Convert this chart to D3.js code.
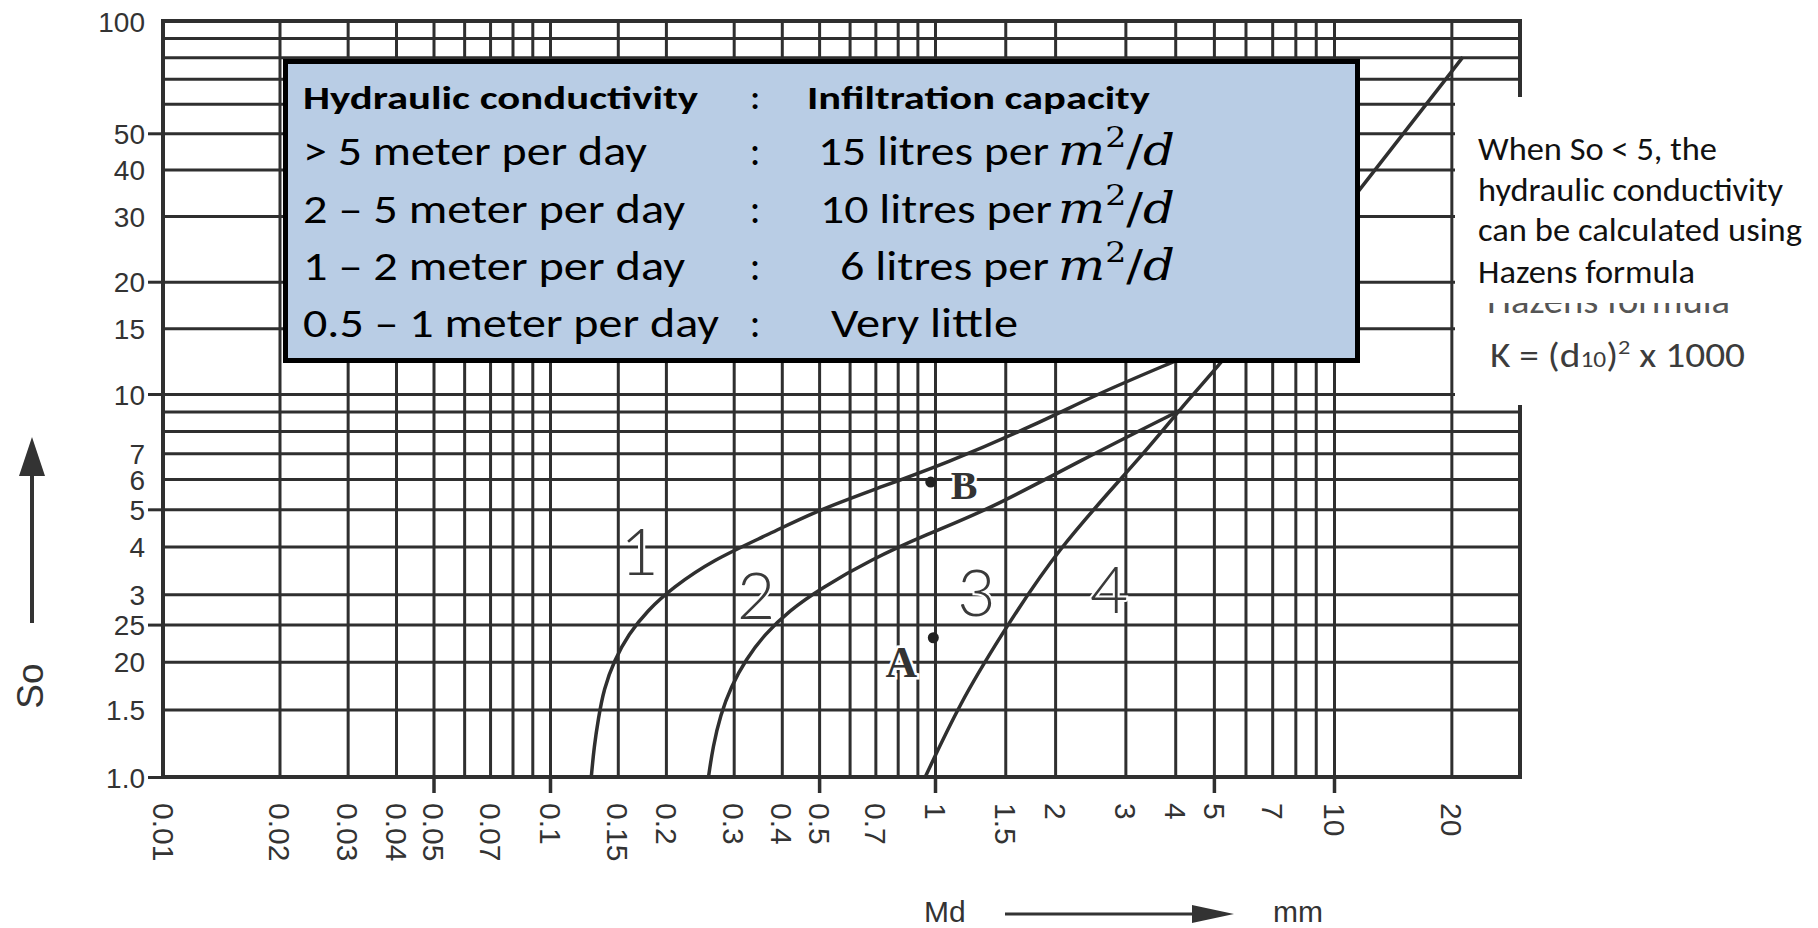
<!DOCTYPE html>
<html>
<head>
  <meta charset="utf-8">
  <title>So - Md</title>
  <style>
    body { margin: 0; background: #fff; }
  </style>
</head>
<body>
<script src="https://d3js.org/d3.v7.min.js"></script>
<script>
  var width = 1818;
  var height = 928;

  // log-log paper
  var xGrid = [0.01, 0.02, 0.03, 0.04, 0.05, 0.06, 0.07, 0.08, 0.09, 0.1, 0.15, 0.2, 0.3, 0.4, 0.5, 0.6, 0.7, 0.8, 0.9, 1, 1.5, 2, 3, 4, 5, 6, 7, 8, 9, 10, 20, 30];
  var yGrid = [1, 1.5, 2, 2.5, 3, 4, 5, 6, 7, 8, 9, 10, 15, 20, 30, 40, 50, 60, 70, 80, 90, 100];
  var xMajor = [0.05, 0.1, 0.5, 1, 5, 10];
  var yMajor = [1, 2.5, 5, 10, 20, 50];

  var xTickValues = [0.01, 0.02, 0.03, 0.04, 0.05, 0.07, 0.1, 0.15, 0.2, 0.3, 0.4, 0.5, 0.7, 1, 1.5, 2, 3, 4, 5, 7, 10, 20];
  var xTickLabels = ['0.01', '0.02', '0.03', '0.04', '0.05', '0.07', '0.1', '0.15', '0.2', '0.3', '0.4', '0.5', '0.7', '1', '1.5', '2', '3', '4', '5', '7', '10', '20'];
  var yTickValues = [100, 50, 40, 30, 20, 15, 10, 7, 6, 5, 4, 3, 2.5, 2, 1.5, 1];
  var yTickLabels = ['100', '50', '40', '30', '20', '15', '10', '7', '6', '5', '4', '3', '25', '20', '1.5', '1.0'];

  // boundary lines, [Md, So]
  var curve1 = [[0.128, 1.0], [0.1302, 1.2], [0.1335, 1.42], [0.138, 1.7], [0.147, 2.02], [0.16, 2.36], [0.179, 2.72], [0.208, 3.12], [0.265, 3.69], [0.37, 4.3], [0.48, 4.9], [0.7, 5.65], [1.07, 6.6], [1.78, 8.3], [2.55, 10], [3.75, 11.9], [6.05, 14.8]];
  var curve2 = [[0.258, 1.0], [0.265, 1.2], [0.277, 1.45], [0.295, 1.72], [0.323, 2.03], [0.36, 2.35], [0.418, 2.72], [0.508, 3.12], [0.68, 3.69], [0.95, 4.3], [1.37, 5.0], [2.31, 6.7], [4.1, 9.05]];
  var curve3 = [[0.943, 1.0], [1.155, 1.56], [1.45, 2.31], [2.03, 3.96], [3.27, 6.8], [4.17, 9.3], [5.14, 11.9], [6.05, 14.8], [11.8, 35.8], [21.4, 80]];

  var regionLabels = ['1', '2', '3', '4'];
  var regionMd = [0.171, 0.343, 1.27, 2.73];
  var regionSo = [3.88, 2.98, 3.03, 3.09];

  var pointNames = ['A', 'B'];
  var pointMd = [0.99, 0.975];
  var pointSo = [2.31, 5.89];

  var conductivity = ['Hydraulic conductivity', '> 5 meter per day', '2 \u2013 5 meter per day', '1 \u2013 2 meter per day', '0.5 \u2013 1 meter per day'];
  var infiltration = ['Infiltration capacity', '15 litres per', '10 litres per', '6 litres per', 'Very little'];
  var perArea = [false, true, true, true, false];

  var noteLines = ['When So < 5, the', 'hydraulic conductivity', 'can be calculated using', 'Hazens formula'];

  var ink = '#2f2f2f';
  var plotLeft = 163, plotRight = 1520, plotTop = 21, plotBottom = 777;

  var x = d3.scaleLog()
    .domain([0.01, 0.1, 1, 10, 30])
    .range([plotLeft, 550, 935, 1334, plotRight]);

  var y = d3.scaleLog()
    .domain([1, 10, 100])
    .range([plotBottom, 394, plotTop]);

  var svg = d3.select('body')
    .append('svg')
      .attr('width', width)
      .attr('height', height);

  svg.append('rect')
    .attr('width', width)
    .attr('height', height)
    .attr('fill', '#fff');

  var fit = function(sel, w) {
    sel.attr('textLength', w).attr('lengthAdjust', 'spacingAndGlyphs');
  };

  var lines = function(g, w) {
    g.select('.domain').remove();
    g.selectAll('line').attr('stroke', ink).attr('stroke-width', w);
  };

  // grid
  svg.append('g')
    .attr('transform', 'translate(0,' + plotBottom + ')')
    .call(d3.axisBottom(x).tickValues(xGrid).tickSize(-(plotBottom - plotTop)).tickFormat(''))
    .call(lines, 3);

  svg.append('g')
    .attr('transform', 'translate(' + plotLeft + ',0)')
    .call(d3.axisLeft(y).tickValues(yGrid).tickSize(-(plotRight - plotLeft)).tickFormat(''))
    .call(lines, 3);

  svg.append('g')
    .attr('transform', 'translate(0,' + plotBottom + ')')
    .call(d3.axisBottom(x).tickValues(xMajor).tickSize(16).tickFormat(''))
    .call(lines, 3.5);

  svg.append('g')
    .attr('transform', 'translate(' + plotLeft + ',0)')
    .call(d3.axisLeft(y).tickValues(yMajor).tickSize(15).tickFormat(''))
    .call(lines, 3);

  svg.append('rect')
    .attr('x', plotLeft)
    .attr('y', plotTop)
    .attr('width', plotRight - plotLeft)
    .attr('height', plotBottom - plotTop)
    .attr('fill', 'none')
    .attr('stroke', ink)
    .attr('stroke-width', 4);

  // tick labels
  var yAxis = svg.append('g')
    .attr('transform', 'translate(' + plotLeft + ',0)')
    .call(d3.axisLeft(y).tickValues(yTickValues).tickSize(0).tickPadding(18)
      .tickFormat(function(d, i) { return yTickLabels[i]; }));
  yAxis.select('.domain').remove();
  yAxis.attr('font-family', '"Liberation Sans", Arial, sans-serif').attr('font-size', 28);
  yAxis.selectAll('text').attr('fill', '#333').attr('dy', '0.36em');

  var xAxis = svg.append('g')
    .attr('transform', 'translate(0,' + plotBottom + ')')
    .call(d3.axisBottom(x).tickValues(xTickValues).tickSize(0)
      .tickFormat(function(d, i) { return xTickLabels[i]; }));
  xAxis.select('.domain').remove();
  xAxis.attr('font-family', '"Liberation Sans", Arial, sans-serif').attr('font-size', 30);
  xAxis.selectAll('text')
    .attr('fill', '#333')
    .attr('transform', 'rotate(90)')
    .attr('x', 26)
    .attr('y', 0)
    .attr('dy', '0.36em')
    .attr('text-anchor', 'start');

  // curves
  var line = d3.line()
    .x(function(d) { return x(d[0]); })
    .y(function(d) { return y(d[1]); })
    .curve(d3.curveBasis);

  svg.append('g')
    .selectAll('path')
    .data([curve1, curve2, curve3])
    .enter()
    .append('path')
      .attr('d', line)
      .attr('fill', 'none')
      .attr('stroke', ink)
      .attr('stroke-width', 3.5);

  svg.append('g')
    .selectAll('text')
    .data(regionLabels)
    .enter()
    .append('text')
      .attr('x', function(d, i) { return x(regionMd[i]); })
      .attr('y', function(d, i) { return y(regionSo[i]); })
      .attr('dy', '0.36em')
      .attr('text-anchor', 'middle')
      .attr('font-family', 'Lato, sans-serif')
      .attr('font-weight', 300)
      .attr('font-size', 66)
      .attr('fill', '#3a3a3a')
      .attr('stroke', '#fff')
      .attr('stroke-width', 4)
      .attr('paint-order', 'stroke')
      .text(function(d) { return d; });

  // points A and B
  var pts = svg.append('g');
  pointNames.forEach(function(name, i) {
    var px = x(pointMd[i]), py = y(pointSo[i]);
    var isA = name === 'A';
    pts.append('text')
      .attr('x', isA ? px - 32 : px + 20)
      .attr('y', isA ? py + 23 : py + 3)
      .attr('dy', '0.36em')
      .attr('text-anchor', isA ? 'middle' : 'start')
      .attr('font-family', '"Liberation Serif", "DejaVu Serif", serif')
      .attr('font-weight', 'bold')
      .attr('font-size', isA ? 44 : 40)
      .attr('fill', '#333')
      .attr('stroke', '#fff')
      .attr('stroke-width', 5)
      .attr('paint-order', 'stroke')
      .text(name);
    pts.append('circle')
      .attr('cx', px)
      .attr('cy', py)
      .attr('r', 5.5)
      .attr('fill', '#222');
  });

  // axis titles
  svg.append('line')
    .attr('x1', 32).attr('y1', 623).attr('x2', 32).attr('y2', 465)
    .attr('stroke', '#333').attr('stroke-width', 4);
  svg.append('path')
    .attr('d', 'M32,437L19,476L45,476Z')
    .attr('fill', '#333');
  svg.append('text')
    .attr('transform', 'translate(30,686) rotate(-90)')
    .attr('dy', '0.36em')
    .attr('text-anchor', 'middle')
    .attr('font-family', '"Liberation Sans", Arial, sans-serif')
    .attr('font-size', 37)
    .attr('fill', '#333')
    .text('So');

  svg.append('text')
    .attr('x', 924).attr('y', 922)
    .attr('font-family', '"Liberation Sans", Arial, sans-serif')
    .attr('font-size', 30)
    .attr('fill', '#333')
    .text('Md');
  svg.append('line')
    .attr('x1', 1005).attr('y1', 914).attr('x2', 1200).attr('y2', 914)
    .attr('stroke', '#333').attr('stroke-width', 3);
  svg.append('path')
    .attr('d', 'M1234,914L1192,905L1192,923Z')
    .attr('fill', '#333');
  svg.append('text')
    .attr('x', 1273).attr('y', 922)
    .attr('font-family', '"Liberation Sans", Arial, sans-serif')
    .attr('font-size', 30)
    .attr('fill', '#333')
    .text('mm');

  // table box
  svg.append('rect')
    .attr('x', 285.5)
    .attr('y', 61.5)
    .attr('width', 1072)
    .attr('height', 299)
    .attr('fill', '#b9cde5')
    .attr('stroke', '#000')
    .attr('stroke-width', 5);

  var rowY = [109, 165, 223, 280, 337];
  var leftW = [395, 344, 382, 382, 416];
  var rightX = [807, 818, 820, 840, 831];
  var rightW = [343, 231, 232, 209, 187];

  var table = svg.append('g')
    .attr('font-family', 'Carlito, Calibri, Lato, sans-serif')
    .attr('fill', '#000');

  conductivity.forEach(function(t, i) {
    var head = i === 0;
    var size = head ? 33 : 40;
    table.append('text')
      .attr('x', 303).attr('y', rowY[i])
      .attr('font-size', size)
      .attr('font-weight', head ? 'bold' : 'normal')
      .text(t)
      .call(fit, leftW[i]);
    table.append('text')
      .attr('x', 755).attr('y', rowY[i])
      .attr('text-anchor', 'middle')
      .attr('font-size', size)
      .attr('font-weight', head ? 'bold' : 'normal')
      .text(':');
    table.append('text')
      .attr('x', rightX[i]).attr('y', rowY[i])
      .attr('font-size', size)
      .attr('font-weight', head ? 'bold' : 'normal')
      .text(infiltration[i])
      .call(fit, rightW[i]);
    if (perArea[i]) {
      var m = table.append('text')
        .attr('x', 1058).attr('y', rowY[i])
        .attr('font-family', '"DejaVu Serif", "Liberation Serif", serif')
        .attr('font-size', 42);
      m.append('tspan').attr('font-style', 'italic').text('m');
      m.append('tspan').attr('font-size', 28).attr('dy', -18).text('2');
      m.append('tspan').attr('dy', 18).text('/');
      m.append('tspan').attr('font-style', 'italic').text('d');
      fit(m, 117);
    }
  });

  // note on the right
  svg.append('rect')
    .attr('x', 1455)
    .attr('y', 97)
    .attr('width', width - 1455)
    .attr('height', 308)
    .attr('fill', '#fff');

  var noteY = [160, 201, 241, 283];
  var noteW = [239, 305, 324, 217];
  var note = svg.append('g')
    .attr('font-family', 'Carlito, Calibri, Lato, sans-serif')
    .attr('font-size', 32)
    .attr('fill', '#111');

  noteLines.forEach(function(t, i) {
    note.append('text')
      .attr('x', 1478).attr('y', noteY[i])
      .text(t)
      .call(fit, noteW[i]);
  });

  svg.append('clipPath')
    .attr('id', 'cut')
    .append('rect')
      .attr('x', 1460).attr('y', 303).attr('width', 350).attr('height', 14);

  svg.append('text')
    .attr('clip-path', 'url(#cut)')
    .attr('x', 1487).attr('y', 313)
    .attr('font-family', 'Carlito, Calibri, Lato, sans-serif')
    .attr('font-size', 36)
    .attr('fill', '#555')
    .text(noteLines[3])
    .call(fit, 243);

  var k = svg.append('text')
    .attr('x', 1490).attr('y', 367)
    .attr('font-family', 'Carlito, Calibri, Lato, sans-serif')
    .attr('font-size', 34)
    .attr('fill', '#3c3c3c');
  k.append('tspan').text('K = (d');
  k.append('tspan').attr('font-size', 22).text('10');
  k.append('tspan').text(')');
  k.append('tspan').attr('font-size', 21).attr('dy', -13).text('2');
  k.append('tspan').attr('dy', 13).text(' x 1000');
  fit(k, 255);

</script>
</body>
</html>
